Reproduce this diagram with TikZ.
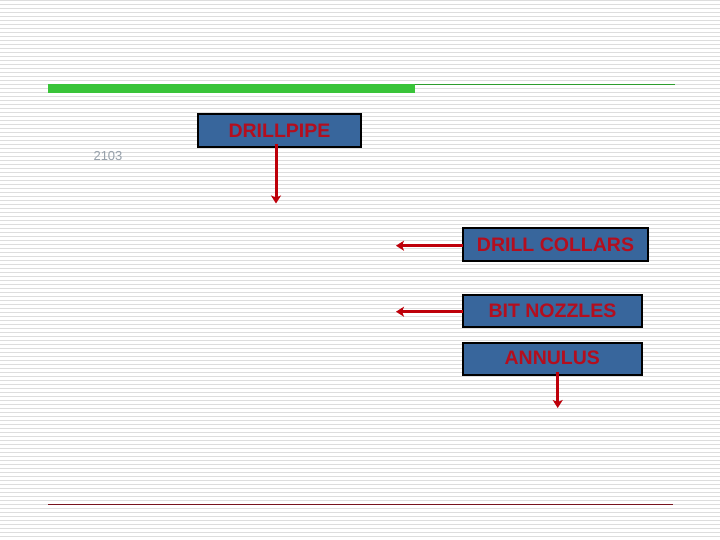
\documentclass[tikz,border=0pt]{standalone}
\usepackage{fontspec}
\setmainfont{Liberation Sans}
\usetikzlibrary{arrows.meta}
\definecolor{bgline}{RGB}{221,221,221}
\definecolor{barGreen}{RGB}{57,196,57}
\definecolor{boxBlue}{RGB}{56,102,156}
\definecolor{txtRed}{RGB}{180,14,30}
\definecolor{arrRed}{RGB}{190,0,10}
\definecolor{ruleRed}{RGB}{120,20,30}
\definecolor{numGray}{RGB}{150,160,170}
\tikzset{
  labelbox/.style={draw=black, line width=2pt, fill=boxBlue, text=txtRed,
    font=\fontsize{19.5}{22}\selectfont\bfseries, inner sep=0pt, outer sep=0pt,
    anchor=center, text depth=0pt},
  flowarrow/.style={draw=arrRed, line width=3pt,
    -{Stealth[length=8pt,width=10pt,inset=2pt]}},
}
\begin{document}
\begin{tikzpicture}[x=1pt,y=-1pt]
\useasboundingbox (0,0) rectangle (720,540);
\fill[white] (0,0) rectangle (720,540);
\foreach \k in {0,...,134} {
  \fill[bgline] (0,{4*\k}) rectangle (720,{4*\k+1.2});
}
% top green bar and line
\fill[barGreen] (48,84) rectangle (415,93);
\draw[barGreen!80!black, line width=1pt] (415,84.5) -- (675,84.5);
% bottom rule
\draw[ruleRed, line width=1pt] (48,504.5) -- (673,504.5);
% slide number
\node[text=numGray, font=\fontsize{13}{15}\selectfont, inner sep=0pt] (num) at (108,156) {2103};
% boxes
\node[labelbox, minimum width=162.4pt, minimum height=33pt] (dp) at (279.5,130.8) {\raisebox{1pt}{DRILLPIPE}};
\node[labelbox, minimum width=185.6pt, minimum height=33pt] (dc) at (555.5,244.8) {\raisebox{1pt}{DRILL COLLARS}};
\node[labelbox, minimum width=179.6pt, minimum height=32.3pt] (bn) at (552.5,311.2) {\raisebox{1.5pt}{BIT NOZZLES}};
\node[labelbox, minimum width=179.3pt, minimum height=32.3pt] (an) at (552.3,358.8) {\raisebox{1.5pt}{ANNULUS}};
% arrow end points
\coordinate (dpEnd) at (276,203.5);
\coordinate (dcEnd) at (396,245.7);
\coordinate (bnEnd) at (396,311.7);
\coordinate (anEnd) at (557.7,408);
% arrows
\draw[flowarrow] (dp.south -| dpEnd) ++(0,-3) -- (dpEnd);
\draw[flowarrow] (dc.west |- dcEnd) -- (dcEnd);
\draw[flowarrow] (bn.west |- bnEnd) -- (bnEnd);
\draw[flowarrow] (an.south -| anEnd) ++(0,-3) -- (anEnd);
\end{tikzpicture}
\end{document}
